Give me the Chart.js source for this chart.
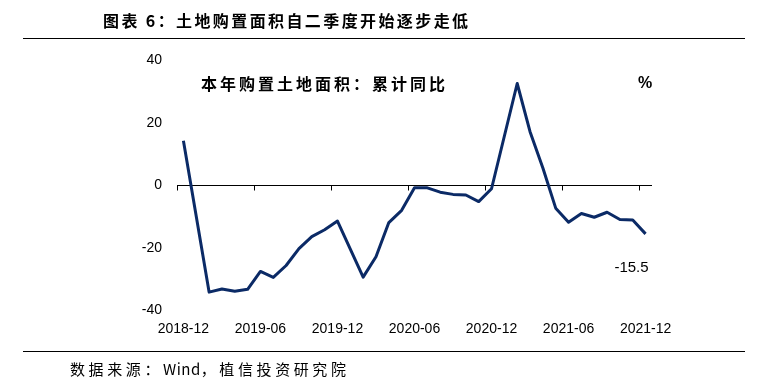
<!DOCTYPE html>
<html>
<head>
<meta charset="utf-8">
<script src="https://cdn.jsdelivr.net/npm/chart.js@4/dist/chart.umd.min.js"></script>
<style>
  html, body { margin: 0; padding: 0; background: #fff; }
  #wrap { position: relative; width: 767px; height: 390px; overflow: hidden; }
  #c { position: absolute; left: 0; top: 0; }
  .txt { position: absolute; white-space: nowrap; color: #000; line-height: 16px; }
  .rule { position: absolute; left: 23px; width: 722px; height: 1px; background: #000; }
</style>
</head>
<body>
<div id="wrap">
  <canvas id="c" width="767" height="390"></canvas>
  <div class="txt" id="title" style="left:103px; top:12px; font: bold 16px 'Noto Sans CJK SC'; line-height:16px; letter-spacing:2.4px;">图表 6：土地购置面积自二季度开始逐步走低</div>
  <div class="rule" style="top:38px;"></div>
  <div class="txt" id="note" style="left:201px; top:75px; font: bold 16px 'Noto Sans CJK SC'; line-height:16px; letter-spacing:3px;">本年购置土地面积：累计同比</div>
  <div class="txt" id="unit" style="left:638px; top:75px; font: bold 16px 'Liberation Sans'; line-height:16px;">%</div>
  <div class="rule" style="top:351px;"></div>
  <div class="txt" id="source" style="left:70px; top:361px; font: 15px 'Noto Sans CJK SC'; line-height:16px; letter-spacing:3.6px;">数据来源：<span style="letter-spacing:0.5px;">Wind</span>，植信投资研究院</div>
</div>
<script>
const categories = [
  "2018-12","2019-01","2019-02","2019-03","2019-04","2019-05","2019-06","2019-07","2019-08","2019-09","2019-10","2019-11",
  "2019-12","2020-01","2020-02","2020-03","2020-04","2020-05","2020-06","2020-07","2020-08","2020-09","2020-10","2020-11",
  "2020-12","2021-01","2021-02","2021-03","2021-04","2021-05","2021-06","2021-07","2021-08","2021-09","2021-10","2021-11",
  "2021-12"
];
const landAreaYoY = [
  14.2, null, -34.1, -33.1, -33.8, -33.2, -27.5, -29.4, -25.6, -20.2, -16.4, -14.2,
  -11.4, null, -29.3, -22.8, -11.9, -8.0, -0.8, -0.8, -2.2, -2.9, -3.1, -5.2,
  -1.1, null, 32.5, 17.1, 5.5, -7.3, -11.8, -9.0, -10.2, -8.6, -10.9, -11.1,
  -15.5
];
const yTicks = [-40, -20, 0, 20, 40];
const labelEvery = 6;

const zeroAxisPlugin = {
  id: 'zeroAxis',
  beforeDatasetsDraw(chart) {
    const { ctx, chartArea, scales } = chart;
    const xs = scales.x, ys = scales.y;
    const y0 = Math.round(ys.getPixelForValue(0)) + 0.5;
    const w = xs.getPixelForValue(1) - xs.getPixelForValue(0);
    ctx.save();
    ctx.strokeStyle = '#000';
    ctx.lineWidth = 1;
    ctx.beginPath();
    ctx.moveTo(chartArea.left, y0);
    ctx.lineTo(chartArea.right, y0);
    for (let i = 0; i < categories.length; i += labelEvery) {
      const x = Math.round(xs.getPixelForValue(i) - w / 2) + 0.5;
      ctx.moveTo(x, y0);
      ctx.lineTo(x, y0 + 5);
    }
    ctx.stroke();
    ctx.restore();
  },
  afterDatasetsDraw(chart) {
    const { ctx, scales } = chart;
    const last = landAreaYoY.length - 1;
    const v = landAreaYoY[last];
    const x = scales.x.getPixelForValue(last);
    const y = scales.y.getPixelForValue(v);
    ctx.save();
    ctx.fillStyle = '#000';
    ctx.font = '15px "Liberation Sans"';
    ctx.textAlign = 'right';
    ctx.textBaseline = 'middle';
    ctx.fillText(v.toFixed(1), x + 3, y + 34);
    ctx.restore();
  }
};

new Chart(document.getElementById('c'), {
  type: 'line',
  data: {
    labels: categories,
    datasets: [{
      data: landAreaYoY,
      borderColor: '#0b2a66',
      borderWidth: 3,
      pointRadius: 0,
      tension: 0,
      spanGaps: true,
      borderJoinStyle: 'round',
      borderCapStyle: 'butt',
      fill: false
    }]
  },
  options: {
    responsive: false,
    animation: false,
    events: [],
    layout: { padding: { left: 137, right: 115, top: 60, bottom: 39.4 } },
    plugins: { legend: { display: false }, tooltip: { enabled: false } },
    scales: {
      x: {
        type: 'category',
        offset: true,
        grid: { display: false, drawTicks: false, tickLength: 0 },
        border: { display: false },
        ticks: {
          autoSkip: false,
          maxRotation: 0,
          minRotation: 0,
          padding: 10,
          color: '#000',
          font: { family: 'Liberation Sans', size: 14 },
          callback: (v, i) => (i % labelEvery === 0 ? categories[i] : null)
        },
        afterFit: (s) => { s.height = 40; }
      },
      y: {
        min: yTicks[0],
        max: yTicks[yTicks.length - 1],
        grid: { display: false, drawTicks: false, tickLength: 0 },
        border: { display: false },
        afterBuildTicks: (s) => { s.ticks = yTicks.map(v => ({ value: v })); },
        ticks: {
          padding: 15,
          color: '#000',
          font: { family: 'Liberation Sans', size: 14 },
          callback: (v) => String(v)
        },
        afterFit: (s) => { s.width = 40; }
      }
    }
  },
  plugins: [zeroAxisPlugin]
});
</script>
</body>
</html>
